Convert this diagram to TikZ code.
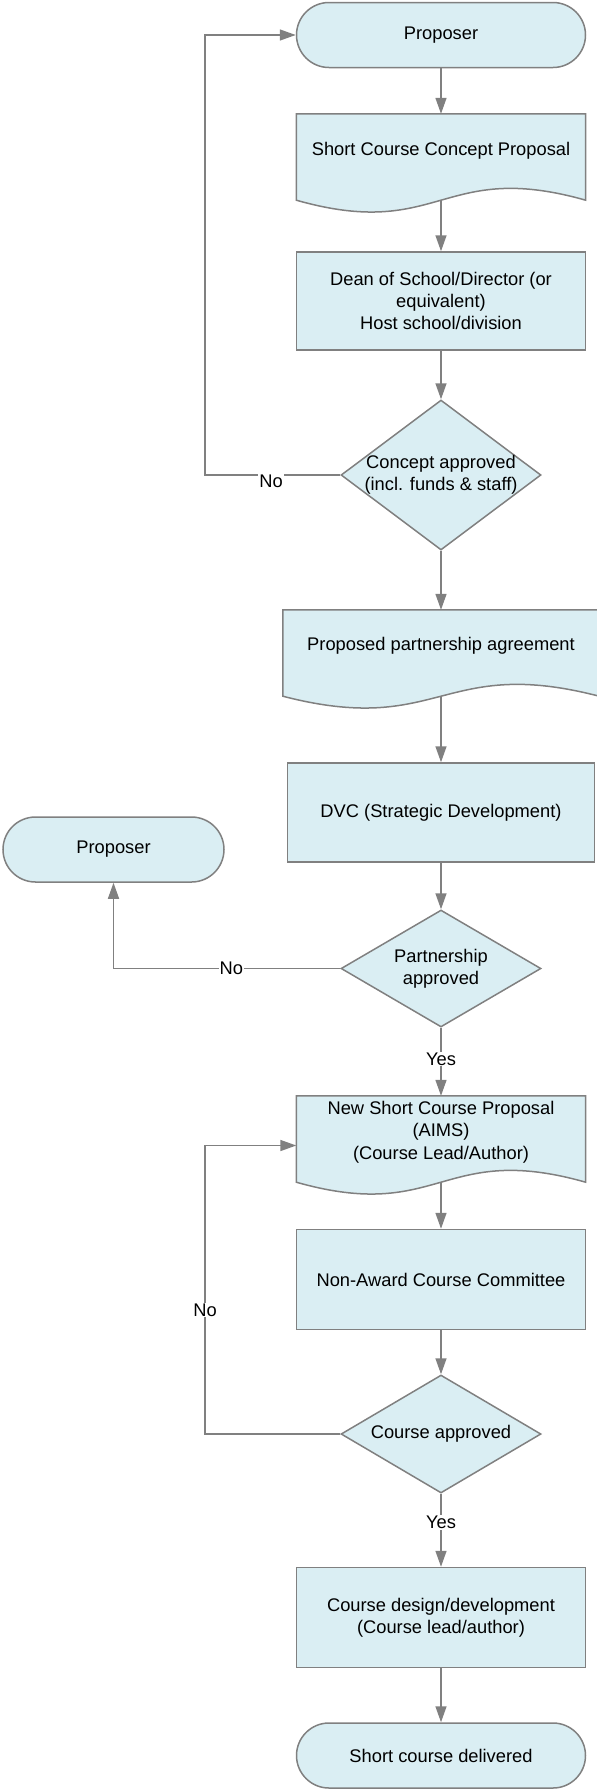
\documentclass[tikz,border=0pt]{standalone}
\usepackage{fontspec}
\setmainfont{Liberation Sans}
\usetikzlibrary{shapes.geometric,arrows.meta,calc}
\definecolor{fillc}{HTML}{DAEEF3}
\definecolor{linec}{HTML}{808080}
\newcommand{\docshape}[1]{%
  \filldraw[draw=linec, fill=fillc, line width=1.5pt, line join=miter]
    (#1.south west) -- (#1.north west) -- (#1.north east) -- (#1.south east)
    .. controls ($(#1.south)+(0,-41)$) and ($(#1.south)+(0,41)$) .. (#1.south west) -- cycle;}
\begin{document}
\begin{tikzpicture}[x=1pt,y=-1pt,
  every node/.style={font=\fontsize{18.3}{22.3}\selectfont, align=center},
  term/.style={draw=linec, fill=fillc, line width=1.5pt, rounded corners=32.5pt, minimum width=289pt, minimum height=65pt, inner sep=0pt},
  proc/.style={draw=linec, fill=fillc, line width=1.5pt, minimum width=289pt, minimum height=98pt, inner sep=0pt},
  dec/.style={diamond, draw=linec, fill=fillc, line width=1.5pt, minimum width=200pt, minimum height=150pt, inner sep=0pt},
  docb/.style={minimum width=289pt, minimum height=86pt, inner sep=0pt},
  conn/.style={draw=linec, line width=1.5pt, -{Triangle[length=16pt,width=11pt]}},
  plain/.style={draw=linec, line width=1.5pt},
  lab/.style={fill=white, inner sep=1pt}
]
\useasboundingbox (0,0) rectangle (597,1789);

% nodes
\node[term] (p1) at (441,35) {Proposer};

\node[docb] (d1) at (441,157) {};
\docshape{d1}
\node (d1t) at (441,151) {Short Course Concept Proposal};

\node[proc] (dean) at (441,301) {Dean of School/Director (or\\equivalent)\\Host school/division};

\node[dec] (c1) at (441,475) {};
\node (c1t) at (c1) {Concept approved\\(incl. funds \& staff)};

\node[docb, minimum width=316pt] (d2) at (441,653) {};
\docshape{d2}
\node (d2t) at (441,646) {Proposed partnership agreement};

\node[proc, minimum width=307pt, minimum height=99pt] (dvc) at (441,812.5) {DVC (Strategic Development)};

\node[dec, minimum height=117pt] (c2) at (441,968.5) {};
\node (c2t) at (c2) {Partnership\\approved};

\node[term, minimum width=221pt] (p2) at (113.5,849.5) {Proposer};

\node[docb] (d3) at (441,1139) {};
\docshape{d3}
\node (d3t) at (441,1132) {New Short Course Proposal\\(AIMS)\\(Course Lead/Author)};

\node[proc, minimum height=100pt] (nac) at (441,1279.5) {Non-Award Course Committee};

\node[dec, minimum height=118pt] (c3) at (441,1434) {};
\node (c3t) at (c3) {Course approved};

\node[proc, minimum height=100pt] (cdd) at (441,1617.5) {Course design/development\\(Course lead/author)};

\node[term] (del) at (441,1755.5) {Short course delivered};

% corner coordinates
\coordinate (k1) at (205,475);
\coordinate (k2) at (113.5,968.5);
\coordinate (k3) at (205,1434);
\coordinate (k3b) at (205,1145.5);

% connectors
\draw[conn] (p1) -- (d1);
\draw[conn] (d1.south) -- (dean);
\draw[conn] (dean) -- (c1);
\draw[conn] (c1.west) -- (k1) |- (p1.west);
\node[lab] (no1) at (271,481) {No};
\draw[conn] (c1) -- (d2);
\draw[conn] (d2.south) -- (dvc);
\draw[conn] (dvc) -- (c2);
\draw[conn] (c2.west) -- node[lab, pos=0.48] (no2) {No} (k2) -- (p2.south);
\draw[conn] (c2) -- node[lab, pos=0.46] (yes1) {Yes} (d3);
\draw[conn] (d3.south) -- (nac);
\draw[conn] (nac) -- (c3);
\draw[conn] (c3.west) -- (k3) -- node[lab, pos=0.43] (no3) {No} (k3b) -- (k3b -| d3.west);
\draw[conn] (c3) -- node[lab, pos=0.39] (yes2) {Yes} (cdd);
\draw[conn] (cdd) -- (del);
\end{tikzpicture}
\end{document}
